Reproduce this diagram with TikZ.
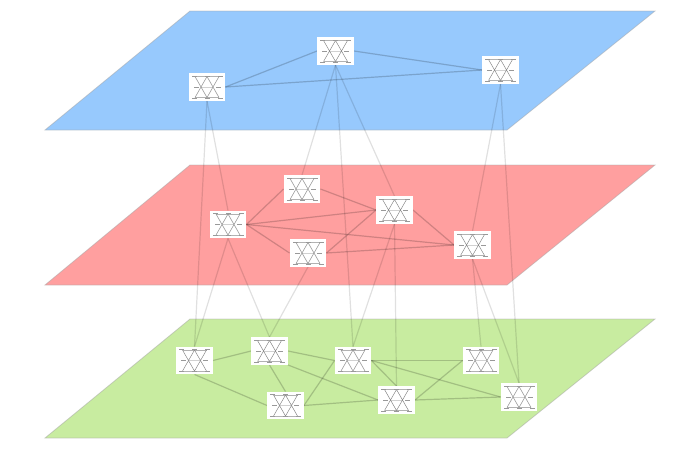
\documentclass[tikz,border=0pt]{standalone}
\usetikzlibrary{backgrounds}
\definecolor{planeblue}{HTML}{97C9FD}
\definecolor{planered}{HTML}{FF9F9F}
\definecolor{planegreen}{HTML}{C8ECA0}
\newcommand{\minimark}[2]{\fill[black!40] (#1-2.5,#2-0.5) rectangle (#1+2.5,#2+0.5);}
\tikzset{
  x=1pt, y=-1pt,
  plane/.style={draw=black!35, draw opacity=0.5, line width=0.8pt},
  inlayer/.style={draw=black, draw opacity=0.19, line width=1.2pt},
  crosslayer/.style={draw=black, draw opacity=0.12, line width=1.2pt},
  minigraph/.style={fill=white, draw=none, inner sep=0pt, minimum width=36.5pt, minimum height=27.5pt,
    path picture={
      \begin{scope}[shift={(path picture bounding box.center)}]
        \draw[black!18, line width=0.4pt] (-6,0) -- (6,0);
        \draw[black!30, line width=0.5pt] (-12,-10.5) -- (12,-10.5) (-12,10.5) -- (12,10.5);
        \draw[black!45, line width=0.5pt] (-12,-10.5) -- (0,10.5) -- (12,-10.5) (-12,10.5) -- (0,-10.5) -- (12,10.5);
        \minimark{-13}{-11} \minimark{0}{-11} \minimark{13}{-11}
        \minimark{-11}{0} \minimark{11}{0}
        \minimark{-13}{11} \minimark{0}{11} \minimark{13}{11}
      \end{scope}
    }}
}
\begin{document}
\begin{tikzpicture}
  \useasboundingbox (0,0) rectangle (700,448);
  % blue layer
  \node[minigraph] (blueA) at (207,87) {};
  \node[minigraph] (blueB) at (335.5,51) {};
  \node[minigraph] (blueC) at (500.5,70) {};
  % red layer
  \node[minigraph] (redA) at (228,224.5) {};
  \node[minigraph] (redB) at (302,189) {};
  \node[minigraph] (redC) at (394.5,210) {};
  \node[minigraph] (redD) at (308,253) {};
  \node[minigraph] (redE) at (472.5,245) {};
  % green layer
  \node[minigraph] (greenA) at (194.5,360.5) {};
  \node[minigraph] (greenB) at (269.5,351) {};
  \node[minigraph] (greenC) at (353,360.5) {};
  \node[minigraph] (greenD) at (285.5,405.5) {};
  \node[minigraph] (greenE) at (396.5,400) {};
  \node[minigraph] (greenF) at (481,360.5) {};
  \node[minigraph] (greenG) at (519,397) {};

  \begin{scope}[on background layer]
    \fill[white] (0,0) rectangle (700,448);
    \draw[plane, fill=planeblue] (190,11) -- (655,11) -- (507,130) -- (45,130) -- cycle;
    \draw[plane, fill=planered] (190,165) -- (655,165) -- (507,285) -- (45,285) -- cycle;
    \draw[plane, fill=planegreen] (190,319) -- (655,319) -- (507,438) -- (45,438) -- cycle;

    \draw[inlayer] (blueA.east) -- (blueB.west);
    \draw[inlayer] (blueA.east) -- (blueC.west);
    \draw[inlayer] (blueB.east) -- (blueC.west);

    \draw[inlayer] (redA.east) -- (redB.west);
    \draw[inlayer] (redA.east) -- (redC.west);
    \draw[inlayer] (redA.east) -- (redD.west);
    \draw[inlayer] (redA.east) -- (redE.west);
    \draw[inlayer] (redB.east) -- (redC.west);
    \draw[inlayer] (redC.west) -- (redD.east);
    \draw[inlayer] (redC.east) -- (redE.west);
    \draw[inlayer] (redD.east) -- (redE.west);

    \draw[inlayer] (greenA.east) -- (greenB.west);
    \draw[inlayer] (greenA.south) -- (greenD.west);
    \draw[inlayer] (greenB.east) -- (greenC.west);
    \draw[inlayer] (greenB.south) -- (greenD.north);
    \draw[inlayer] (greenB.south east) -- (greenE.west);
    \draw[inlayer] (greenC.west) -- (greenD.east);
    \draw[inlayer] (greenC.east) -- (greenE.north);
    \draw[inlayer] (greenC.east) -- (greenF.west);
    \draw[inlayer] (greenC.east) -- (greenG.west);
    \draw[inlayer] (greenD.east) -- (greenE.west);
    \draw[inlayer] (greenE.east) -- (greenF.west);
    \draw[inlayer] (greenE.east) -- (greenG.west);

    \draw[crosslayer] (blueA.south) -- (redA.north);
    \draw[crosslayer] (blueA.south) -- (greenA.north);
    \draw[crosslayer] (blueB.south) -- (redB.north);
    \draw[crosslayer] (blueB.south) -- (redC.north);
    \draw[crosslayer] (blueB.south) -- (greenC.north);
    \draw[crosslayer] (blueC.south) -- (redE.north);
    \draw[crosslayer] (blueC.south) -- (greenG.north);
    \draw[crosslayer] (redA.south) -- (greenA.north);
    \draw[crosslayer] (redA.south) -- (greenB.north);
    \draw[crosslayer] (redD.south) -- (greenB.north);
    \draw[crosslayer] (redC.south) -- (greenC.north);
    \draw[crosslayer] (redC.south) -- (greenE.north);
    \draw[crosslayer] (redE.south) -- (greenF.north);
    \draw[crosslayer] (redE.south) -- (greenG.north);
  \end{scope}
\end{tikzpicture}
\end{document}
